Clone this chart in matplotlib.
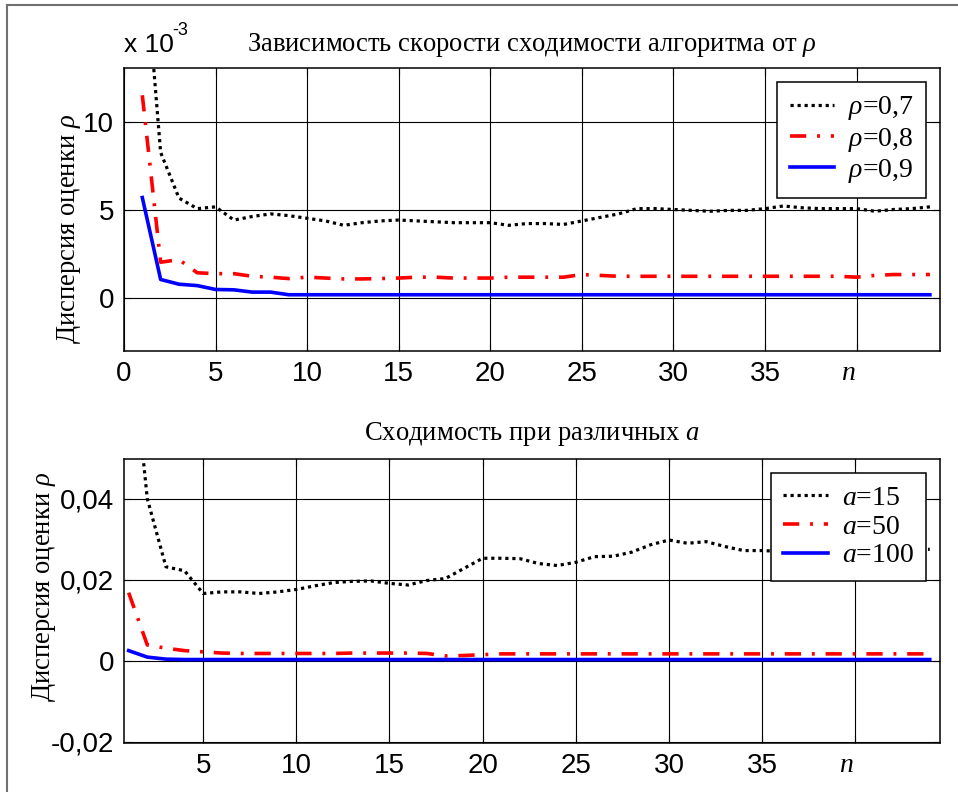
import matplotlib
matplotlib.use('Agg')
import matplotlib.pyplot as plt
from matplotlib.lines import Line2D
import matplotlib.transforms as mtransforms

plt.rcParams['font.family'] = ['Liberation Sans', 'DejaVu Sans']
plt.rcParams['mathtext.fontset'] = 'custom'
plt.rcParams['mathtext.rm'] = 'Liberation Serif'
plt.rcParams['mathtext.it'] = 'Liberation Serif:italic'

SERIF = ['Liberation Serif', 'DejaVu Serif']

# ---- data: top chart (values in units of 1e-3) ----
n_top = list(range(1, 45))
rho07 = [21.0, 8.3, 5.7, 5.1, 5.2, 4.45, 4.65, 4.8, 4.7, 4.55,
         4.4, 4.15, 4.3, 4.4, 4.45, 4.4, 4.35, 4.3, 4.3, 4.3,
         4.15, 4.25, 4.25, 4.2, 4.4, 4.6, 4.8, 5.1, 5.1, 5.05,
         5.0, 4.95, 5.0, 5.0, 5.1, 5.25, 5.15, 5.1, 5.1, 5.1,
         4.95, 5.05, 5.1, 5.2]
rho08 = [11.55, 2.05, 2.2, 1.45, 1.4, 1.4, 1.25, 1.2, 1.12, 1.2,
         1.15, 1.1, 1.1, 1.12, 1.15, 1.2, 1.2, 1.15, 1.15, 1.15,
         1.2, 1.2, 1.2, 1.2, 1.35, 1.3, 1.25, 1.25, 1.25, 1.25,
         1.25, 1.25, 1.25, 1.25, 1.25, 1.25, 1.25, 1.25, 1.25, 1.2,
         1.3, 1.35, 1.35, 1.35]
rho09 = [5.73, 1.07, 0.8, 0.72, 0.5, 0.48, 0.35, 0.35, 0.2, 0.2,
         0.2, 0.2, 0.2, 0.2, 0.2, 0.2, 0.2, 0.2, 0.2, 0.2,
         0.2, 0.2, 0.2, 0.2, 0.2, 0.2, 0.2, 0.2, 0.2, 0.2,
         0.2, 0.2, 0.2, 0.2, 0.2, 0.2, 0.2, 0.2, 0.2, 0.2,
         0.2, 0.2, 0.2, 0.2]
top_labels = ['$\\rho$=0,7', '$\\rho$=0,8', '$\\rho$=0,9']

# ---- data: bottom chart ----
n_bot = list(range(1, 45))
a15 = [0.085, 0.040, 0.0232, 0.0222, 0.0166, 0.017, 0.017, 0.0166, 0.017, 0.0176,
       0.0185, 0.0193, 0.0196, 0.0197, 0.0191, 0.0187, 0.0198, 0.0203, 0.0228, 0.0253,
       0.0253, 0.0252, 0.024, 0.0235, 0.0243, 0.0257, 0.0258, 0.0268, 0.0286, 0.0298,
       0.029, 0.0294, 0.0282, 0.0272, 0.0272, 0.027, 0.027, 0.0275, 0.028, 0.028,
       0.0278, 0.0275, 0.0275, 0.0275]
a50 = [0.0168, 0.0039, 0.0031, 0.0025, 0.0022, 0.0019, 0.0018, 0.0018, 0.0018, 0.0018,
       0.0018, 0.0018, 0.0019, 0.0019, 0.0019, 0.0019, 0.0018, 0.0012, 0.0013, 0.0015,
       0.0017, 0.0017, 0.0017, 0.0017, 0.0017, 0.0017, 0.0017, 0.0017, 0.0017, 0.0017,
       0.0017, 0.0017, 0.0017, 0.0017, 0.0017, 0.0017, 0.0017, 0.0017, 0.0017, 0.0017,
       0.0017, 0.0017, 0.0017, 0.0017]
a100 = [0.0025, 0.0009, 0.0004, 0.0003, 0.0003, 0.0003, 0.0003, 0.0003, 0.0003, 0.0003,
        0.0003, 0.0003, 0.0003, 0.0003, 0.0003, 0.0003, 0.0003, 0.0003, 0.0003, 0.0003,
        0.0003, 0.0003, 0.0003, 0.0003, 0.0003, 0.0003, 0.0003, 0.0003, 0.0003, 0.0003,
        0.0003, 0.0003, 0.0003, 0.0003, 0.0003, 0.0003, 0.0003, 0.0003, 0.0003, 0.0003,
        0.0003, 0.0003, 0.0003, 0.0003]
bot_labels = ['$a$=15', '$a$=50', '$a$=100']

DOT = (0, (1, 1.2))
DASHDOT = (0, (4.5, 3, 0.8, 3))
FS = 19.2


def style_axes(ax):
    ax.grid(True, color='black', linewidth=0.8)
    for s in ax.spines.values():
        s.set_linewidth(1.1)
        s.set_color('black')
    ax.tick_params(direction='in', length=5, top=True, right=True,
                   labelsize=20, pad=7)


def n_label(ax, fig):
    labs = ax.get_xticklabels()
    labs[-1].set_fontfamily(SERIF)
    labs[-1].set_fontstyle('italic')
    shift = mtransforms.ScaledTranslation(-9 / 100, 0, fig.dpi_scale_trans)
    labs[-1].set_transform(labs[-1].get_transform() + shift)


def add_legend(ax):
    leg = ax.legend(loc='upper right', prop={'family': SERIF, 'size': 20},
                    fancybox=False, edgecolor='black', framealpha=1,
                    handlelength=1.6, handletextpad=0.5, borderaxespad=0.5,
                    labelspacing=0.12, borderpad=0.45)
    leg.get_frame().set_linewidth(1.1)
    return leg


fig = plt.figure(figsize=(9.58, 7.92), dpi=100)

# frame around the figure
fig.add_artist(Line2D([7/958, 7/958], [0, 1 - 5/792], transform=fig.transFigure,
                      color='#707070', lw=1.5))
fig.add_artist(Line2D([7/958, 1], [1 - 5/792, 1 - 5/792], transform=fig.transFigure,
                      color='#707070', lw=1.5))

# ---- top ----
ax1 = fig.add_axes([124/958, 1 - 351/792, 816/958, 283/792])
ax1.plot(n_top, rho07, color='black', lw=2.3, linestyle=DOT, label=top_labels[0])
ax1.plot(n_top, rho08, color='red', lw=2.6, linestyle=DASHDOT, label=top_labels[1])
ax1.plot(n_top, rho09, color='blue', lw=2.6, label=top_labels[2])
ax1.set_xlim(0, 44.55)
ax1.set_ylim(-3.0, 13.1)
ax1.set_xticks([0, 5, 10, 15, 20, 25, 30, 35, 40])
ax1.set_xticklabels(['0', '5', '10', '15', '20', '25', '30', '35', 'n'])
ax1.set_yticks([0, 5, 10])
ax1.set_yticklabels(['0', '5', '10'])
style_axes(ax1)
n_label(ax1, fig)
ax1.set_title('Зависимость скорости сходимости алгоритма от $\\rho$',
              fontfamily=SERIF, fontsize=FS, pad=12)
ax1.set_ylabel('Дисперсия оценки $\\rho$', fontfamily=SERIF, fontsize=FS)
ax1.yaxis.set_label_coords(-0.050, 0.43)
ax1.text(0.0, 1.055, 'x 10', transform=ax1.transAxes,
         fontsize=19, ha='left', va='baseline')
ax1.text(0.059, 1.115, '-3', transform=ax1.transAxes,
         fontsize=13, ha='left', va='baseline')
add_legend(ax1)

# ---- bottom ----
ax2 = fig.add_axes([124/958, 1 - 743/792, 816/958, 284/792])
ax2.plot(n_bot, a15, color='black', lw=2.3, linestyle=DOT, label=bot_labels[0])
ax2.plot(n_bot, a50, color='red', lw=2.6, linestyle=DASHDOT, label=bot_labels[1])
ax2.plot(n_bot, a100, color='blue', lw=2.6, label=bot_labels[2])
ax2.set_xlim(0.75, 44.55)
ax2.set_ylim(-0.0203, 0.0498)
ax2.set_xticks([5, 10, 15, 20, 25, 30, 35, 40])
ax2.set_xticklabels(['5', '10', '15', '20', '25', '30', '35', 'n'])
ax2.set_yticks([-0.02, 0, 0.02, 0.04])
ax2.set_yticklabels(['-0,02', '0', '0,02', '0,04'])
style_axes(ax2)
n_label(ax2, fig)
ax2.set_title('Сходимость при различных $a$', fontfamily=SERIF, fontsize=FS, pad=14)
ax2.set_ylabel('Дисперсия оценки $\\rho$', fontfamily=SERIF, fontsize=FS)
ax2.yaxis.set_label_coords(-0.081, 0.55)
add_legend(ax2)

fig.savefig('out.png', dpi=100)
